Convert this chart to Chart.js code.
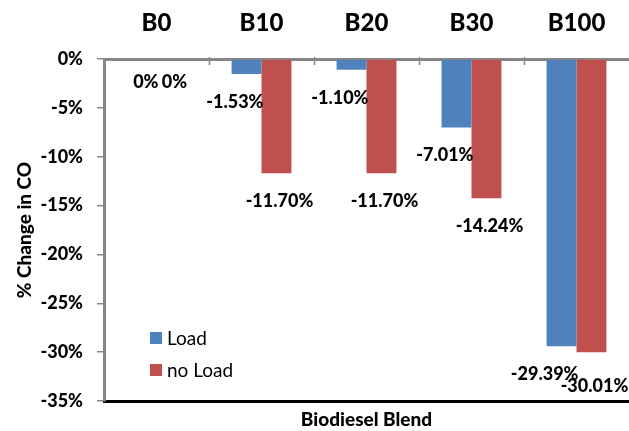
<!DOCTYPE html>
<html>
<head>
<meta charset="utf-8">
<script src="https://cdn.jsdelivr.net/npm/chart.js@4.4.1/dist/chart.umd.min.js"></script>
<style>
  html, body { margin: 0; padding: 0; background: #fff; }
  #wrap { width: 629px; height: 431px; }
</style>
</head>
<body>
<div id="wrap"><canvas id="coChart"></canvas></div>
<script>
// Chart data
const blends = ['B0', 'B10', 'B20', 'B30', 'B100'];
const loadValues = [0, -1.53, -1.10, -7.01, -29.39];
const noLoadValues = [0, -11.70, -11.70, -14.24, -30.01];
const yMin = -35;
const yMax = 0;
const yStep = 5;

const FONT = 'Lato';

// Value labels under each bar end
const barLabels = {
    id: 'barLabels',
    afterDatasetsDraw(chart) {
        const ctx = chart.ctx;
        ctx.save();
        ctx.font = '900 18px ' + FONT;
        ctx.fillStyle = '#000';
        ctx.textBaseline = 'middle';
        chart.data.datasets.forEach((ds, i) => {
            const meta = chart.getDatasetMeta(i);
            meta.data.forEach((bar, j) => {
                const v = ds.data[j];
                const txt = v === 0 ? '0%' : v.toFixed(2) + '%';
                const y = v === 0 ? bar.y + 23 : bar.y + 28;
                if (i === 0) {
                    ctx.textAlign = 'right';
                    ctx.fillText(txt, bar.x + bar.width / 2 + 2, y);
                } else {
                    ctx.textAlign = 'center';
                    ctx.fillText(txt, bar.x + 3, y + (j === 4 ? 6 : 0));
                }
            });
        });
        ctx.restore();
    }
};

// Category separator ticks hanging from the top axis + legend inside the plot
const extras = {
    id: 'extras',
    afterDraw(chart) {
        const ctx = chart.ctx;
        const xs = chart.scales.x;
        const area = chart.chartArea;
        ctx.save();
        ctx.strokeStyle = '#868686';
        ctx.lineWidth = 1.5;
        const step = xs.width / blends.length;
        for (let i = 1; i < blends.length; i++) {
            const px = Math.round(xs.left + i * step) + 0.5;
            ctx.beginPath();
            ctx.moveTo(px, area.top - 2);
            ctx.lineTo(px, area.top + 6);
            ctx.stroke();
        }
        // legend
        ctx.font = '19px ' + FONT;
        ctx.textAlign = 'left';
        ctx.textBaseline = 'middle';
        chart.data.datasets.forEach((ds, i) => {
            const lx = area.left + 46;
            const ly = area.top + 279 + i * 32;
            ctx.fillStyle = ds.backgroundColor;
            ctx.fillRect(lx, ly - 6, 12, 12);
            ctx.fillStyle = '#000';
            ctx.fillText(ds.label, lx + 17, ly + 1);
        });
        ctx.restore();
    }
};

const ctx = document.getElementById('coChart').getContext('2d');
new Chart(ctx, {
    type: 'bar',
    data: {
        labels: blends,
        datasets: [
            {
                label: 'Load',
                data: loadValues,
                backgroundColor: '#4F81BD',
                xAxisID: 'x'
            },
            {
                label: 'no Load',
                data: noLoadValues,
                backgroundColor: '#C0504D',
                xAxisID: 'x'
            }
        ]
    },
    options: {
        responsive: true,
        maintainAspectRatio: false,
        animation: false,
        categoryPercentage: 0.57,
        barPercentage: 1,
        layout: { padding: { left: 9, right: 0, top: 0, bottom: 0 } },
        plugins: {
            legend: { display: false },
            tooltip: { enabled: false }
        },
        scales: {
            x: {
                position: 'top',
                grid: { display: false, drawTicks: false },
                border: { display: true, color: '#868686', width: 3 },
                ticks: {
                    color: '#000',
                    font: { family: FONT, size: 24, weight: '900' },
                    padding: 21
                },
                afterFit: (scale) => { scale.height = 59; }
            },
            x2: {
                position: 'bottom',
                type: 'category',
                labels: blends,
                grid: { display: false, drawTicks: false },
                border: { display: true, color: '#000', width: 3 },
                ticks: { display: false },
                title: {
                    display: true,
                    text: 'Biodiesel Blend',
                    color: '#000',
                    font: { family: FONT, size: 19, weight: '900' },
                    padding: { top: 6, bottom: 0 }
                },
                afterFit: (scale) => { scale.height = 30; }
            },
            y: {
                min: yMin,
                max: yMax,
                grid: {
                    drawOnChartArea: false,
                    drawTicks: true,
                    tickLength: 7,
                    color: '#868686',
                    lineWidth: 1.5
                },
                border: { display: true, color: '#868686', width: 3 },
                ticks: {
                    stepSize: yStep,
                    color: '#000',
                    padding: 14,
                    font: { family: FONT, size: 18, weight: '900' },
                    callback: (v) => v + '%'
                },
                title: {
                    display: true,
                    text: '% Change in CO',
                    color: '#000',
                    font: { family: FONT, size: 19, weight: '900' },
                    padding: { top: 4, bottom: 4 }
                },
                afterFit: (scale) => { scale.width = 95; }
            }
        }
    },
    plugins: [barLabels, extras]
});
</script>
</body>
</html>
